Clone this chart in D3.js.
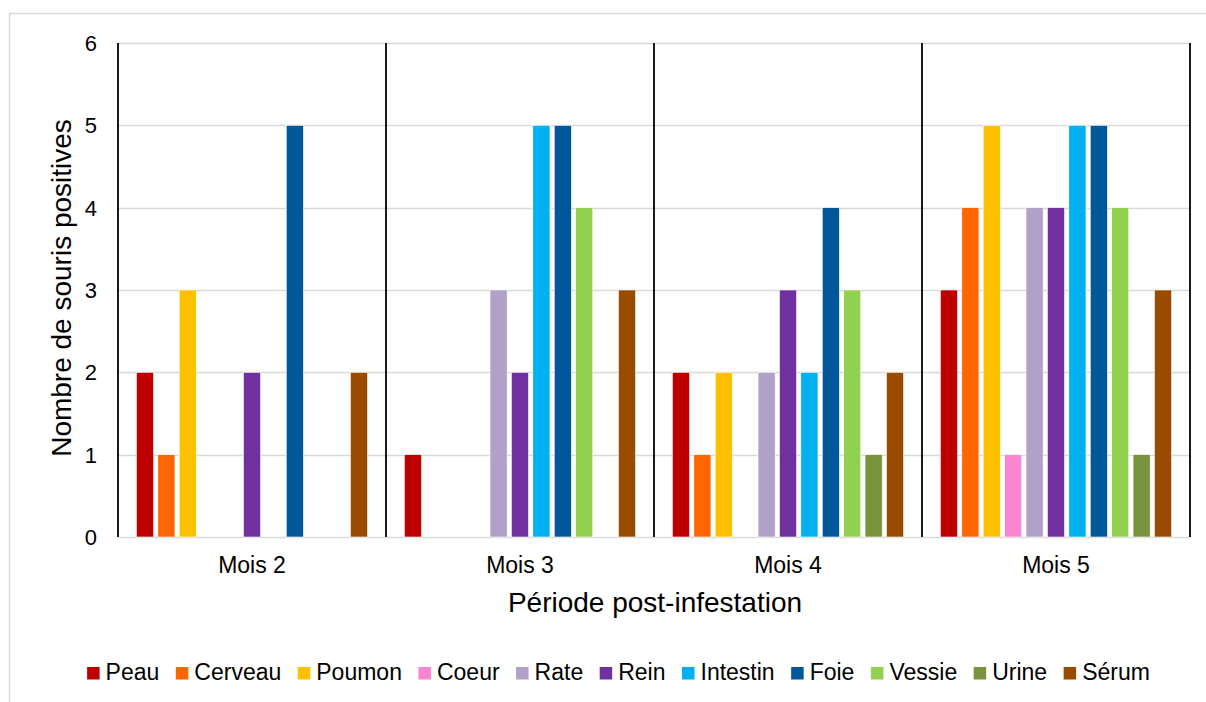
<!DOCTYPE html>
<html>
<head>
<meta charset="utf-8">
<script src="https://cdn.jsdelivr.net/npm/d3@7"></script>
<style>
  html, body { margin: 0; padding: 0; background: #fff; }
  svg { display: block; font-family: "Liberation Sans", Arial, sans-serif; }
</style>
</head>
<body>
<svg id="chart" width="1206" height="702"></svg>
<script>
const months = ["Mois 2", "Mois 3", "Mois 4", "Mois 5"];
const series = ["Peau", "Cerveau", "Poumon", "Coeur", "Rate", "Rein", "Intestin", "Foie", "Vessie", "Urine", "Sérum"];
const colors = ["#C00000", "#FF6600", "#FFC000", "#F886D3", "#B1A0C7", "#7030A0", "#00B0F0", "#00589B", "#92D050", "#77933C", "#994C00"];
const peau     = [2, 1, 2, 3];
const cerveau  = [1, 0, 1, 4];
const poumon   = [3, 0, 2, 5];
const coeur    = [0, 0, 0, 1];
const rate     = [0, 3, 2, 4];
const rein     = [2, 2, 3, 4];
const intestin = [0, 5, 2, 5];
const foie     = [5, 5, 4, 5];
const vessie   = [0, 4, 3, 4];
const urine    = [0, 0, 1, 1];
const serum    = [2, 3, 2, 3];
const yTicks = [0, 1, 2, 3, 4, 5, 6];
const yTitle = "Nombre de souris positives";
const xTitle = "Période post-infestation";

const values = [peau, cerveau, poumon, coeur, rate, rein, intestin, foie, vessie, urine, serum];

const svg = d3.select("#chart");
const M = { left: 118, right: 1190, top: 43, bottom: 537 };

// outer chart border
svg.append("rect").attr("x", 9.5).attr("y", 13.5).attr("width", 1300).attr("height", 800)
  .attr("fill", "none").attr("stroke", "#d9d9d9").attr("stroke-width", 1.5);

const x0 = d3.scaleBand().domain(months).range([M.left, M.right]).paddingInner(0).paddingOuter(0);
const x1 = d3.scaleBand().domain(series).range([0, x0.bandwidth()]).paddingInner(0.2).paddingOuter(0.86);
const y = d3.scaleLinear().domain([0, 6]).range([M.bottom, M.top]);

// gridlines
svg.append("g").selectAll("line").data(yTicks).join("line")
  .attr("x1", M.left).attr("x2", M.right)
  .attr("y1", d => Math.round(y(d)) + 0.5).attr("y2", d => Math.round(y(d)) + 0.5)
  .attr("stroke", "#d9d9d9").attr("stroke-width", 1.5);

// bars
const groups = svg.append("g").selectAll("g").data(months).join("g")
  .attr("transform", d => `translate(${x0(d)},0)`);
groups.selectAll("rect").data((m, mi) => series.map((s, si) => ({ s, si, v: values[si][mi] })))
  .join("rect")
  .attr("x", d => x1(d.s))
  .attr("width", x1.bandwidth())
  .attr("y", d => y(d.v))
  .attr("height", d => y(0) - y(d.v))
  .attr("fill", d => colors[d.si])
  .attr("stroke", "#ffffff").attr("stroke-width", 0.6)
  .attr("display", d => d.v > 0 ? null : "none");

// vertical separators
const seps = [M.left].concat(months.map(m => x0(m) + x0.bandwidth()));
svg.append("g").selectAll("line").data(seps).join("line")
  .attr("x1", d => d).attr("x2", d => d)
  .attr("y1", M.top).attr("y2", M.bottom)
  .attr("stroke", "#000").attr("stroke-width", 1.8);

// y tick labels
svg.append("g").selectAll("text").data(yTicks).join("text")
  .attr("x", 97).attr("y", d => y(d)).attr("dy", "0.36em")
  .attr("text-anchor", "end").attr("font-size", 22).attr("fill", "#000")
  .text(d => d);

// x category labels
svg.append("g").selectAll("text").data(months).join("text")
  .attr("x", d => x0(d) + x0.bandwidth() / 2).attr("y", 573)
  .attr("text-anchor", "middle").attr("font-size", 23).attr("fill", "#000")
  .text(d => d);

// axis titles
svg.append("text").attr("x", 655).attr("y", 612).attr("text-anchor", "middle")
  .attr("font-size", 28).attr("fill", "#000").text(xTitle);
svg.append("text").attr("transform", "translate(71,288) rotate(-90)").attr("text-anchor", "middle")
  .attr("font-size", 28).attr("fill", "#000").text(yTitle);

// legend
const leg = svg.append("g");
let cx = 0;
series.forEach((s, i) => {
  const g = leg.append("g");
  g.append("rect").attr("x", cx).attr("y", 667).attr("width", 12.5).attr("height", 12.5).attr("fill", colors[i]);
  const t = g.append("text").attr("x", cx + 18.5).attr("y", 680).attr("font-size", 23).attr("fill", "#000").text(s);
  const w = t.node().getComputedTextLength();
  cx += 18.5 + w + 16.5;
});
const total = cx - 16.5;
leg.attr("transform", `translate(${618.5 - total / 2},0)`);
</script>
</body>
</html>
